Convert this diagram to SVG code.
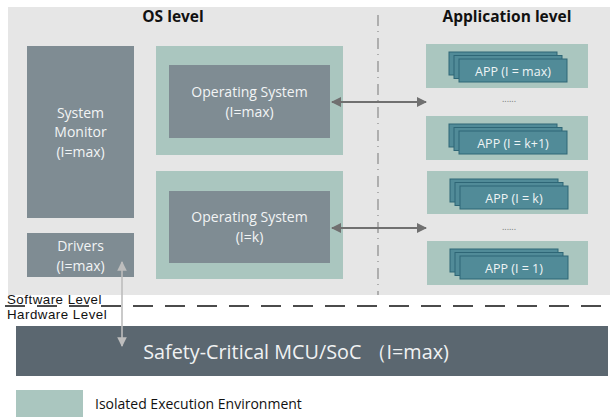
<svg xmlns="http://www.w3.org/2000/svg" width="610" height="417" viewBox="0 0 610 417">
<defs>
<style>
.t{font-family:"Open Sans","Liberation Sans",sans-serif;}
.title{font-size:15.5px;font-weight:bold;fill:#111;text-anchor:middle;}
.env{fill:#aac6bf;}
.os{fill:#7f8c93;}
.wt{fill:#f2f4f5;font-size:14px;text-anchor:middle;}
.card{fill:#518b98;stroke:#2e6676;stroke-width:1;}
.ct{fill:#eef4f5;font-size:12.5px;text-anchor:middle;}
.dots{fill:#777;font-size:9px;text-anchor:middle;}
.lbl{font-family:"Liberation Sans",Arial,sans-serif;fill:#111;font-size:13.3px;letter-spacing:0.5px;}
</style>
<marker id="ah" viewBox="0 0 10 10" refX="9" refY="5" markerWidth="5" markerHeight="5" orient="auto-start-reverse" markerUnits="strokeWidth">
<path d="M0,0 L10,5 L0,10 z" fill="#707070"/>
</marker>
<marker id="ahl" viewBox="0 0 10 10" refX="9" refY="5" markerWidth="6" markerHeight="6" orient="auto-start-reverse" markerUnits="strokeWidth">
<path d="M0,0 L10,5 L0,10 z" fill="#bdbdbd"/>
</marker>
<g id="stack">
<rect class="card" x="0" y="0" width="108" height="23"/>
<rect class="card" x="5" y="3.5" width="108" height="23"/>
<rect class="card" x="10" y="7" width="108" height="23"/>
</g>
</defs>

<rect x="8" y="7" width="602" height="288" fill="#e6e6e6"/>

<text class="t title" x="173" y="22">OS level</text>
<text class="t title" x="507" y="22">Application level</text>

<line x1="378" y1="15" x2="378" y2="295" stroke="#8a8a8a" stroke-width="1.2" stroke-dasharray="11,5,1,6"/>

<g id="system-monitor">
<rect class="os" x="27" y="46" width="107" height="172"/>
<text class="t wt" x="80.5" y="118">System</text>
<text class="t wt" x="80.5" y="137">Monitor</text>
<text class="t wt" x="80.5" y="157">(I=max)</text>
</g>

<g id="drivers">
<rect class="os" x="27" y="233" width="107" height="44"/>
<text class="t wt" x="80.5" y="251">Drivers</text>
<text class="t wt" x="80.5" y="271">(I=max)</text>
</g>

<g id="os-max">
<rect class="env" x="156" y="46" width="187" height="109"/>
<rect class="os" x="169" y="65" width="161" height="73"/>
<text class="t wt" x="249.5" y="97">Operating System</text>
<text class="t wt" x="249.5" y="117">(I=max)</text>
</g>

<g id="os-k">
<rect class="env" x="156" y="171" width="187" height="108"/>
<rect class="os" x="169" y="191" width="161" height="72"/>
<text class="t wt" x="249.5" y="222">Operating System</text>
<text class="t wt" x="249.5" y="242">(I=k)</text>
</g>

<g id="app-max">
<rect class="env" x="426" y="44" width="162" height="44"/>
<use href="#stack" x="449" y="52"/>
<text class="t ct" x="513" y="75.5">APP (I = max)</text>
</g>
<text class="t dots" x="509" y="102">......</text>

<g id="app-k1">
<rect class="env" x="426" y="116" width="162" height="44"/>
<use href="#stack" x="449" y="124"/>
<text class="t ct" x="513" y="147.5">APP (I = k+1)</text>
</g>

<g id="app-k">
<rect class="env" x="427" y="171" width="161" height="43"/>
<use href="#stack" x="450" y="179"/>
<text class="t ct" x="514" y="202.5">APP (I = k)</text>
</g>
<text class="t dots" x="509" y="230">......</text>

<g id="app-1">
<rect class="env" x="427" y="241" width="161" height="44"/>
<use href="#stack" x="450" y="249"/>
<text class="t ct" x="514" y="272.5">APP (I = 1)</text>
</g>

<line x1="5" y1="306" x2="610" y2="306" stroke="#111" stroke-width="1.5" stroke-dasharray="20,12"/>
<text class="lbl" x="7" y="303.5">Software Level</text>
<text class="lbl" x="7" y="319">Hardware Level</text>

<g id="mcu">
<rect x="16" y="326" width="592" height="50" fill="#5b6770"/>
<text class="t" x="296" y="358.5" font-size="19.8" fill="#f0f2f3" text-anchor="middle">Safety-Critical MCU/SoC （I=max)</text>
</g>

<g id="legend">
<rect class="env" x="16" y="390" width="67" height="27"/>
<text class="t" x="95" y="409" font-size="14" fill="#111">Isolated Execution Environment</text>
</g>

<g id="connectors">
<line x1="332" y1="102" x2="426" y2="102" stroke="#707070" stroke-width="2" marker-start="url(#ah)" marker-end="url(#ah)"/>
<line x1="332" y1="228" x2="426" y2="228" stroke="#707070" stroke-width="2" marker-start="url(#ah)" marker-end="url(#ah)"/>
<line x1="122" y1="262" x2="122" y2="346" stroke="#bdbdbd" stroke-width="1.6" marker-start="url(#ahl)" marker-end="url(#ahl)"/>
</g>
</svg>
